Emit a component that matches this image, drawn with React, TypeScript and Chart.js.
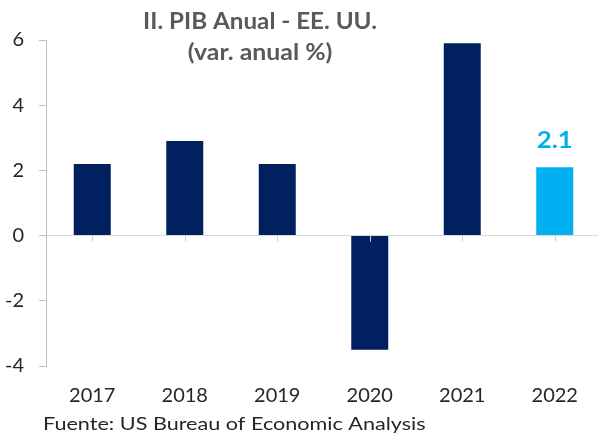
import React, { useEffect, useRef } from "react";
import { Chart, registerables } from "chart.js";

Chart.register(...registerables);

const categories = ["2017", "2018", "2019", "2020", "2021", "2022"];
const gdpGrowth = [2.2, 2.9, 2.2, -3.5, 5.9, 2.1];
const barColors = ["#002060", "#002060", "#002060", "#002060", "#002060", "#00B0F0"];
const yMin = -4;
const yMax = 6;
const yStep = 2;
const titleLines = ["II. PIB Anual - EE. UU.", "(var. anual %)"];
const sourceNote = "Fuente: US Bureau of Economic Analysis";
const labeledIndex = 5;

const FONT = "Lato, 'Liberation Sans', sans-serif";

function drawText(
  ctx: CanvasRenderingContext2D,
  text: string,
  x: number,
  y: number,
  font: string,
  color: string,
  align: CanvasTextAlign,
  baseline: CanvasTextBaseline,
  sx: number
) {
  ctx.save();
  ctx.translate(x, y);
  ctx.scale(sx, 1);
  ctx.font = font;
  ctx.fillStyle = color;
  ctx.textAlign = align;
  ctx.textBaseline = baseline;
  ctx.fillText(text, 0, 0);
  ctx.restore();
}

const decorPlugin = {
  id: "decor",
  afterDatasetsDraw(chart: any) {
    const { ctx, scales } = chart;
    const x = scales.x;
    const y = scales.y;
    const y0 = y.getPixelForValue(0);
    ctx.save();
    ctx.strokeStyle = "#d0d0d0";
    ctx.lineWidth = 1;
    categories.forEach((_, i) => {
      const px = Math.round(x.getPixelForValue(i)) + 0.5;
      ctx.beginPath();
      ctx.moveTo(px, y0);
      ctx.lineTo(px, y0 + 6);
      ctx.stroke();
    });
    ctx.restore();

    const el = chart.getDatasetMeta(0).data[labeledIndex];
    drawText(ctx, gdpGrowth[labeledIndex].toFixed(1), el.x, el.y - 19, `bold 22px ${FONT}`, "#00B0F0", "center", "alphabetic", 1.17);

    drawText(ctx, titleLines[0], 260, 29, `bold 22px ${FONT}`, "#595959", "center", "alphabetic", 1.1);
    drawText(ctx, titleLines[1], 260, 60, `bold 22px ${FONT}`, "#595959", "center", "alphabetic", 1.13);

    drawText(ctx, sourceNote, 43, 430, `18px ${FONT}`, "#262626", "left", "alphabetic", 1.2);
  },
};

export default function App() {
  const canvasRef = useRef<HTMLCanvasElement | null>(null);

  useEffect(() => {
    if (!canvasRef.current) return;
    const chart = new Chart(canvasRef.current, {
      type: "bar",
      data: {
        labels: categories,
        datasets: [
          {
            data: gdpGrowth,
            backgroundColor: barColors,
            barPercentage: 0.4,
            categoryPercentage: 1,
          },
        ],
      },
      options: {
        animation: false,
        responsive: false,
        devicePixelRatio: 1,
        layout: { padding: { top: 40, right: 3, bottom: 0, left: 0 } },
        plugins: {
          legend: { display: false },
          tooltip: { enabled: false },
          title: { display: false },
        },
        scales: {
          x: {
            grid: { display: false, drawTicks: false },
            border: { display: false },
            ticks: {
              color: "#262626",
              font: { family: FONT, size: 20 },
              padding: 18,
              maxRotation: 0,
            },
            afterFit: (scale: any) => {
              scale.height = 68;
            },
          },
          y: {
            min: yMin,
            max: yMax,
            ticks: {
              stepSize: yStep,
              color: "#262626",
              font: { family: FONT, size: 20 },
              padding: 15,
            },
            grid: {
              color: (c: any) => (c.tick && c.tick.value === 0 ? "#d9d9d9" : "rgba(0,0,0,0)"),
              tickColor: "#bfbfbf",
              tickLength: 7,
              lineWidth: 1,
            },
            border: { display: true, color: "#bfbfbf" },
            afterFit: (scale: any) => {
              scale.width = 46;
            },
          },
        },
      },
      plugins: [decorPlugin],
    });
    return () => chart.destroy();
  }, []);

  return (
    <div
      style={{
        position: "fixed",
        left: 0,
        top: 0,
        width: 598,
        height: 434,
        overflow: "hidden",
        background: "#ffffff",
      }}
    >
      <canvas ref={canvasRef} width={604} height={434} style={{ width: 604, height: 434 }} />
    </div>
  );
}
